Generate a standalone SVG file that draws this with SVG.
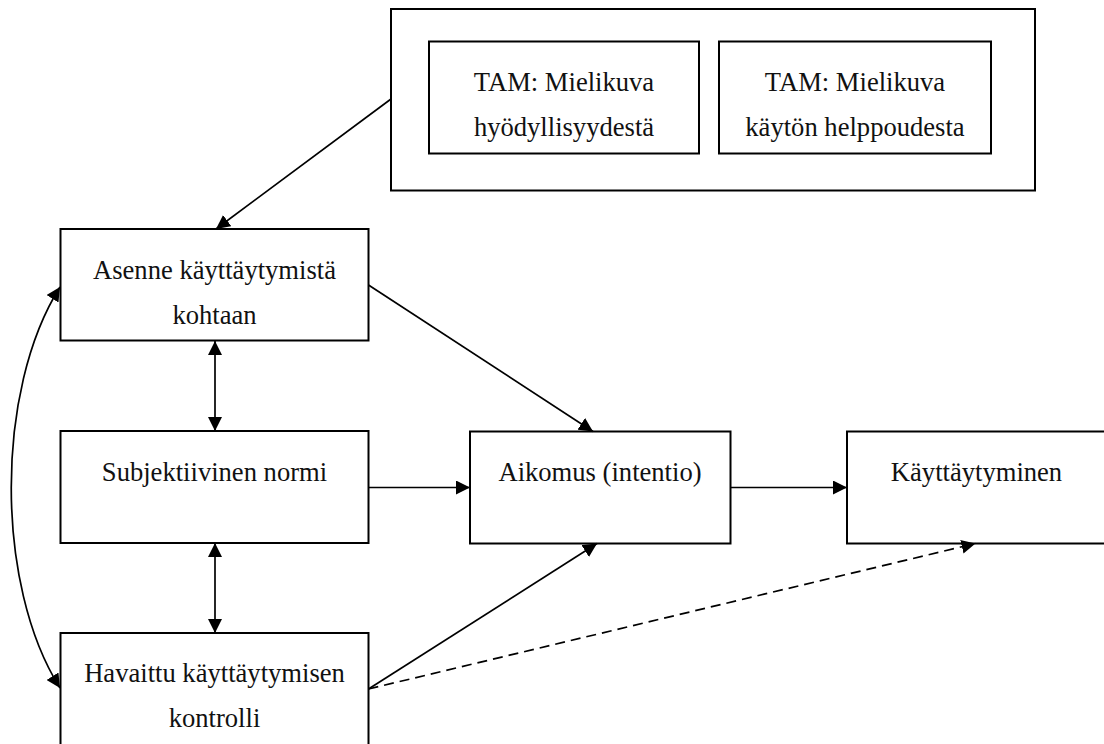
<svg xmlns="http://www.w3.org/2000/svg" width="1104" height="744" viewBox="0 0 1104 744">
<defs>
<style>
.box{fill:#fff;stroke:#000;stroke-width:2}
.t{font-family:"Liberation Serif","Times New Roman",serif;font-size:26.6px;fill:#111;text-anchor:middle}
.c{fill:none;stroke:#000;stroke-width:1.7}
.d{stroke-dasharray:10 6}
</style>
<marker id="ah" viewBox="0 0 14 14" refX="14" refY="7" markerWidth="14" markerHeight="14" markerUnits="userSpaceOnUse" orient="auto-start-reverse">
<path d="M0,0 L14,7 L0,14 z" fill="#000"/>
</marker>
</defs>
<rect width="1104" height="744" fill="#fff"/>
<g id="tam">
<rect class="box" x="391" y="9" width="644" height="181.5"/>
</g>
<g id="tam-hyodyllisyys">
<rect class="box" x="429" y="41.5" width="270" height="112"/>
<text class="t" x="564" y="90.7">TAM: Mielikuva</text>
<text class="t" x="564" y="136">hyödyllisyydestä</text>
</g>
<g id="tam-helppous">
<rect class="box" x="719" y="41.5" width="272" height="112"/>
<text class="t" x="855" y="90.7">TAM: Mielikuva</text>
<text class="t" x="855" y="136">käytön helppoudesta</text>
</g>
<g id="asenne">
<rect class="box" x="60.5" y="229" width="308" height="111.5"/>
<text class="t" x="214.5" y="279">Asenne käyttäytymistä</text>
<text class="t" x="214.5" y="324">kohtaan</text>
</g>
<g id="normi">
<rect class="box" x="60.5" y="431" width="308" height="112"/>
<text class="t" x="214.5" y="481">Subjektiivinen normi</text>
</g>
<g id="kontrolli">
<rect class="box" x="60.5" y="633" width="308" height="120"/>
<text class="t" x="214.5" y="682.3">Havaittu käyttäytymisen</text>
<text class="t" x="214.5" y="727.3">kontrolli</text>
</g>
<g id="aikomus">
<rect class="box" x="470" y="431.5" width="260.5" height="112"/>
<text class="t" x="600" y="481">Aikomus (intentio)</text>
</g>
<g id="kayttaytyminen">
<rect class="box" x="847" y="431.5" width="262" height="112"/>
<text class="t" x="976.5" y="481">Käyttäytyminen</text>
</g>
<g id="connectors">
<line class="c" x1="391" y1="99" x2="216" y2="229" marker-end="url(#ah)"/>
<line class="c" x1="215" y1="341" x2="215" y2="431" marker-start="url(#ah)" marker-end="url(#ah)"/>
<line class="c" x1="215" y1="543" x2="215" y2="633" marker-start="url(#ah)" marker-end="url(#ah)"/>
<path class="c" d="M60,287 C-5,390 -5,585 60,688" marker-start="url(#ah)" marker-end="url(#ah)"/>
<line class="c" x1="368.5" y1="285" x2="593" y2="431.5" marker-end="url(#ah)"/>
<line class="c" x1="368.5" y1="487.5" x2="470" y2="487.5" marker-end="url(#ah)"/>
<line class="c" x1="730.5" y1="487.5" x2="847" y2="487.5" marker-end="url(#ah)"/>
<line class="c" x1="368.5" y1="689" x2="597" y2="543.5" marker-end="url(#ah)"/>
<line class="c d" x1="368.5" y1="689" x2="975.5" y2="543.5" marker-end="url(#ah)"/>
</g>
</svg>
